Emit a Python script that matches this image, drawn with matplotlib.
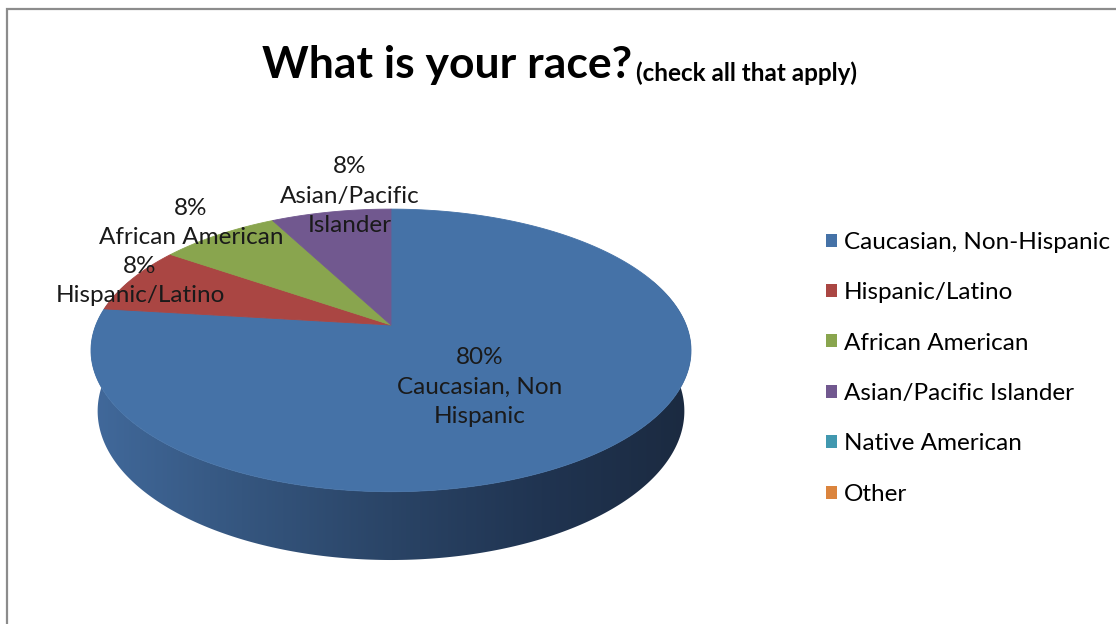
import numpy as np
import matplotlib
matplotlib.use("Agg")
import matplotlib.pyplot as plt
from matplotlib.patches import Polygon, Patch
from matplotlib.colors import LinearSegmentedColormap

plt.rcParams['font.family'] = ['Lato', 'DejaVu Sans']

# Ответы на вопрос (можно было выбрать несколько вариантов)
categories = ['Caucasian, Non-Hispanic', 'Hispanic/Latino', 'African American',
              'Asian/Pacific Islander', 'Native American', 'Other']
percent = [80, 8, 8, 8, 0, 0]
slice_labels = ['Caucasian, Non\nHispanic', 'Hispanic/Latino', 'African American',
                'Asian/Pacific\nIslander', 'Native American', 'Other']
colors = ['#4572a7', '#aa4643', '#89a54e', '#71588f', '#4198af', '#db843d']

# Центры подписей долей (в пикселях)
label_pos = [(480, 387), (140, 281), (191, 223), (350, 196)]

# Параметры "объёмного" круга: центр, масштаб, наклон, удаление камеры, толщина
cx, cy = 391, 325
K = 1455.0
phi = np.radians(27.6)
D = 4.93
thick = 0.234
s, c = np.sin(phi), np.cos(phi)


def project(theta, r=1.0, h=0.0):
    # theta - по часовой стрелке от дальней точки диска
    x3 = r * np.sin(theta)
    z3 = r * np.cos(theta)
    ry = h - D * s
    rz = z3 + D * c
    depth = -ry * s + rz * c
    sx = x3 / depth
    sy = (ry * c + rz * s) / depth
    return cx + K * sx, cy - K * sy


fig = plt.figure(figsize=(11.16, 6.24), dpi=100)
ax = fig.add_axes([0, 0, 1, 1])
ax.set_xlim(0, 1116)
ax.set_ylim(624, 0)
ax.axis('off')

# Рамка диаграммы
ax.plot([6.5, 6.5, 1116], [624, 9, 9], color='#8c8c8c', lw=1.6, solid_joinstyle='miter')

# Боковая стенка с градиентом слева направо
th = np.linspace(np.radians(70), np.radians(290), 300)
tx, ty = project(th)
bx, by = project(th[::-1], h=-thick)
side = Polygon(np.column_stack([np.r_[tx, bx], np.r_[ty, by]]), closed=True,
               facecolor='none', edgecolor='none')
ax.add_patch(side)
side_cmap = LinearSegmentedColormap.from_list(
    'side', ['#41699b', '#35567f', '#2a4466', '#203451', '#1b2a40'])
grad = np.linspace(0, 1, 256).reshape(1, -1)
img = ax.imshow(grad, cmap=side_cmap, aspect='auto',
                extent=[tx.min(), tx.max(), by.max() + 2, ty.min()], zorder=1)
img.set_clip_path(side)
ax.set_xlim(0, 1116)
ax.set_ylim(624, 0)

# Верхняя грань: доли от значений
shown = [p for p in percent if p > 0]
fracs = np.array(shown, dtype=float) / sum(shown)
bounds = np.r_[0, np.cumsum(fracs)] * 2 * np.pi
for i in range(len(shown)):
    arc = np.linspace(bounds[i], bounds[i + 1], 200)
    ax_, ay_ = project(arc)
    poly = Polygon(np.column_stack([np.r_[cx, ax_], np.r_[cy, ay_]]), closed=True,
                   facecolor=colors[i], edgecolor=colors[i], lw=0.6, zorder=2)
    ax.add_patch(poly)

# Подписи долей
for i in range(len(shown)):
    x, y = label_pos[i]
    ax.text(x, y, f"{percent[i]}%\n{slice_labels[i]}", ha='center', va='center',
            fontsize=17.5, linespacing=1.48, color='#1a1a1a', zorder=3)

# Заголовок
title = ax.text(262, 78, 'What is your race?', ha='left', va='baseline',
                fontsize=32, fontweight='bold', color='black')
ax.annotate('(check all that apply)', xy=(1, 0), xycoords=title,
            xytext=(3, 0), textcoords='offset points', ha='left', va='bottom',
            fontsize=17.5, fontweight='bold', color='black')

# Легенда
handles = [Patch(facecolor=col, edgecolor='none') for col in colors]
fig.legend(handles, categories, loc='upper left',
           bbox_to_anchor=(816 / 1116, 1 - 222 / 624), frameon=False,
           fontsize=17.5, handlelength=0.45, handleheight=0.45, handletextpad=0.3,
           labelspacing=1.21, borderaxespad=0)

fig.savefig('out.png', dpi=100)
